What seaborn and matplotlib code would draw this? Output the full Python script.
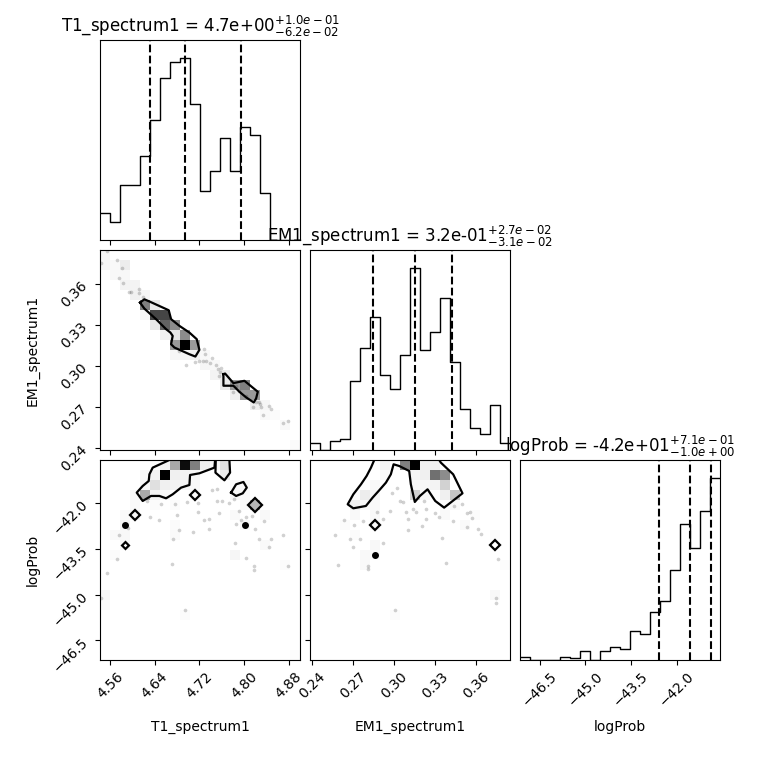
import numpy as np
import matplotlib
matplotlib.use("Agg")
import matplotlib.pyplot as plt
import seaborn as sns
from matplotlib.colors import LinearSegmentedColormap

# parameters, plotting ranges and ticks
labels = ["T1_spectrum1", "EM1_spectrum1", "logProb"]
ranges = [(4.542, 4.900), (0.2388, 0.3848), (-47.14, -40.58)]
ticks = [[4.56, 4.64, 4.72, 4.80, 4.88],
         [0.24, 0.27, 0.30, 0.33, 0.36],
         [-46.5, -45.0, -43.5, -42.0]]

# marginal histograms, 20 bins over each range
t1_counts = [15, 10, 30, 30, 46, 66, 89, 98, 100, 75, 27, 38, 56, 38, 62, 58, 26, 0, 0, 0]
em1_counts = [3.7, 0, 4.9, 6.2, 38, 56, 73, 41, 33.5, 52, 100, 55, 65, 83.5, 48.6, 22.7, 12.2, 8.6, 24.7, 3.7]
logprob_counts = [1.8, 0, 0, 0, 1.8, 0.9, 5, 0, 5, 7, 6, 15.8, 14.3, 26.2, 32.3, 49.4, 74.7, 61.7, 82.2, 100]

# 16 / 50 / 84 % quantiles
t1_quantiles = [4.632, 4.694, 4.794]
em1_quantiles = [0.2845, 0.3155, 0.3425]
logprob_quantiles = [-42.575, -41.575, -40.865]

# title numbers: median, +err, -err
t1_title = ["4.7e+00", "1.0e-01", "6.2e-02"]
em1_title = ["3.2e-01", "2.7e-02", "3.1e-02"]
logprob_title = ["-4.2e+01", "7.1e-01", "1.0e+00"]

# --- T1 vs EM1 ---
t1_em1_cell_x = [4.551, 4.551, 4.569, 4.587, 4.569, 4.587, 4.587, 4.605, 4.605, 4.623, 4.623, 4.641,
                 4.623, 4.641, 4.658, 4.641, 4.658, 4.676, 4.658, 4.676, 4.694, 4.676, 4.694, 4.712,
                 4.676, 4.694, 4.712, 4.730, 4.730, 4.748, 4.748, 4.766, 4.766, 4.784, 4.802, 4.784,
                 4.802, 4.820, 4.820, 4.837, 4.837, 4.855, 4.873, 4.891]
t1_em1_cell_y = [0.3812, 0.3739, 0.3739, 0.3739, 0.3666, 0.3666, 0.3593, 0.3593, 0.3520, 0.3520, 0.3447, 0.3447,
                 0.3374, 0.3374, 0.3374, 0.3301, 0.3301, 0.3301, 0.3228, 0.3228, 0.3228, 0.3155, 0.3155, 0.3155,
                 0.3082, 0.3082, 0.3082, 0.3082, 0.3009, 0.3009, 0.2936, 0.2936, 0.2863, 0.2863, 0.2863, 0.2790,
                 0.2790, 0.2790, 0.2717, 0.2717, 0.2644, 0.2644, 0.2571, 0.2425]
t1_em1_cell_w = [0.06, 0.06, 0.04, 0.12, 0.05, 0.05, 0.08, 0.08, 0.10, 0.06, 0.55, 0.15,
                 0.06, 0.75, 0.75, 0.15, 0.65, 0.50, 0.10, 0.15, 0.50, 0.45, 1.00, 0.45,
                 0.06, 0.08, 0.10, 0.05, 0.06, 0.05, 0.08, 0.12, 0.15, 0.45, 0.55, 0.10,
                 0.45, 0.45, 0.12, 0.06, 0.04, 0.03, 0.05, 0.03]
t1_em1_pts_x = [4.5438, 4.5539, 4.5719, 4.5808, 4.5754, 4.5826, 4.5933, 4.5975, 4.6113, 4.6124,
                4.6184, 4.6829, 4.6960, 4.7127, 4.7199, 4.7289, 4.7307, 4.7259, 4.7318, 4.7390,
                4.7426, 4.7498, 4.7527, 4.7575, 4.7545, 4.7587, 4.7796, 4.7856, 4.7903, 4.8035,
                4.8166, 4.8214, 4.8262, 4.8286, 4.8304, 4.8333, 4.8441, 4.8483, 4.8692, 4.8787]
t1_em1_pts_y = [0.3751, 0.3841, 0.3775, 0.3719, 0.3646, 0.3610, 0.3544, 0.3542, 0.3566, 0.3532,
                0.3508, 0.3107, 0.3010, 0.3032, 0.3036, 0.3124, 0.3087, 0.3039, 0.3039, 0.3022,
                0.3056, 0.3007, 0.2978, 0.2959, 0.2929, 0.2990, 0.2808, 0.2857, 0.2820, 0.2784,
                0.2699, 0.2735, 0.2740, 0.2723, 0.2699, 0.2643, 0.2706, 0.2686, 0.2584, 0.2597]
t1_em1_contour1_x = [4.6136, 4.6214, 4.6321, 4.6650, 4.6692, 4.6841, 4.7020, 4.7151, 4.7199, 4.7127,
                     4.7020, 4.6751, 4.6692, 4.6721, 4.6680, 4.6602, 4.6423, 4.6214, 4.6136]
t1_em1_contour1_y = [0.3464, 0.3488, 0.3469, 0.3408, 0.3343, 0.3294, 0.3245, 0.3197, 0.3119, 0.3070,
                     0.3087, 0.3136, 0.3160, 0.3221, 0.3245, 0.3270, 0.3343, 0.3420, 0.3464]
t1_em1_contour2_x = [4.7629, 4.7659, 4.7808, 4.8005, 4.8244, 4.8214, 4.8172, 4.8035, 4.7915, 4.7808, 4.7629, 4.7629]
t1_em1_contour2_y = [0.2942, 0.2946, 0.2876, 0.2893, 0.2813, 0.2764, 0.2735, 0.2772, 0.2813, 0.2857, 0.2857, 0.2942]

# --- T1 vs logProb ---
t1_lp_cell_x = [4.658, 4.676, 4.694, 4.712, 4.730, 4.748, 4.766,
                4.623, 4.641, 4.658, 4.676, 4.694, 4.712, 4.766,
                4.623, 4.641, 4.658, 4.676, 4.694, 4.712, 4.784, 4.802,
                4.605, 4.623, 4.641, 4.658, 4.712, 4.784, 4.802,
                4.605, 4.641, 4.676, 4.802, 4.820,
                4.587, 4.605, 4.784, 4.837,
                4.587, 4.676, 4.802,
                4.569, 4.587, 4.676,
                4.587, 4.837, 4.569, 4.784, 4.873, 4.551, 4.551, 4.694, 4.891]
t1_lp_cell_y = [-40.74] * 7 + [-41.07] * 7 + [-41.40] * 8 + [-41.73] * 7 + [-42.06] * 5 + [-42.38] * 4 \
    + [-42.71] * 3 + [-43.04] * 3 + [-43.37, -43.37, -43.70, -43.70, -44.02, -45.01, -45.34, -45.66, -46.98]
t1_lp_cell_w = [0.08, 0.40, 0.95, 0.55, 0.10, 0.05, 0.20,
                0.04, 0.08, 1.00, 0.10, 0.08, 0.06, 0.12,
                0.05, 0.20, 0.10, 0.08, 0.08, 0.04, 0.05, 0.05,
                0.05, 0.40, 0.08, 0.05, 0.04, 0.06, 0.04,
                0.04, 0.03, 0.03, 0.04, 0.35,
                0.04, 0.06, 0.04, 0.05,
                0.08, 0.03, 0.05,
                0.04, 0.05, 0.04,
                0.05, 0.04, 0.03, 0.06, 0.03, 0.06, 0.04, 0.03, 0.02]
t1_lp_pts_x = [4.6512, 4.6769, 4.6972, 4.7169, 4.6793, 4.6321, 4.6471, 4.6829, 4.6721, 4.7092,
               4.7289, 4.7378, 4.7426, 4.7510, 4.7545, 4.7605, 4.7736, 4.7826, 4.7915, 4.7856,
               4.8035, 4.8142, 4.8202, 4.8274, 4.8363, 4.8441, 4.8483, 4.8692, 4.8781, 4.8035,
               4.8172, 4.8172, 4.7844, 4.6704, 4.6948, 4.5539, 4.5438, 4.5719, 4.5754, 4.5927,
               4.6256, 4.7169, 4.7378, 4.7510, 4.7945]
t1_lp_pts_y = [-42.034, -42.034, -41.946, -42.274, -42.394, -42.438, -42.558, -42.875, -43.159, -42.941,
               -42.558, -42.832, -41.564, -41.924, -42.307, -41.924, -41.979, -41.870, -42.252, -42.689,
               -42.438, -42.416, -42.832, -43.181, -42.580, -43.422, -43.181, -43.039, -44.056, -43.804,
               -44.056, -44.187, -43.291, -43.979, -45.488, -44.274, -45.094, -43.837, -43.039, -42.799,
               -41.924, -41.979, -42.526, -41.542, -42.547]
t1_lp_contour1_x = [4.6662, 4.6363, 4.6304, 4.6292, 4.6184, 4.6077, 4.6184, 4.6333, 4.6483, 4.6602,
                    4.6721, 4.6871, 4.7020, 4.7032, 4.7199, 4.7468, 4.7480]
t1_lp_contour1_y = [-40.58, -40.831, -41.050, -41.269, -41.433, -41.651, -41.924, -41.760, -41.760, -41.837,
                    -41.706, -41.487, -41.400, -41.072, -41.017, -40.831, -40.58]
t1_lp_contour2_x = [4.7492, 4.7486, 4.7647, 4.7748, 4.7736]
t1_lp_contour2_y = [-40.58, -40.995, -41.247, -40.995, -40.58]
t1_lp_contour3_x = [4.7766, 4.7856, 4.7987, 4.8047, 4.7975, 4.7856, 4.7766]
t1_lp_contour3_y = [-41.651, -41.378, -41.301, -41.487, -41.673, -41.760, -41.651]
t1_lp_ring_x = [4.605, 4.587, 4.712, 4.820]
t1_lp_ring_y = [-42.38, -43.37, -41.73, -42.06]
t1_lp_dot_x = [4.587, 4.802]
t1_lp_dot_y = [-42.71, -42.71]

# --- EM1 vs logProb ---
em1_lp_cell_x = [0.2936, 0.3082, 0.3155, 0.3228, 0.3301,
                 0.2936, 0.3155, 0.3228, 0.3301, 0.3374,
                 0.2863, 0.3155, 0.3228, 0.3301, 0.3374,
                 0.2790, 0.2863, 0.3155, 0.3228, 0.3374, 0.3447,
                 0.2717, 0.2790, 0.2863, 0.3447,
                 0.2717, 0.2863, 0.3374, 0.3593,
                 0.2644, 0.2863, 0.3520,
                 0.2717, 0.3739, 0.2863, 0.2790, 0.2863, 0.2790, 0.3812, 0.3739, 0.3009]
em1_lp_cell_y = [-40.74] * 5 + [-41.07] * 5 + [-41.40] * 5 + [-41.73] * 6 + [-42.06] * 4 + [-42.38] * 4 \
    + [-42.71] * 3 + [-43.04, -43.04, -43.37, -43.70, -43.70, -44.02, -44.02, -45.01, -45.66]
em1_lp_cell_w = [0.08, 0.55, 1.00, 0.10, 0.10,
                 0.04, 0.06, 0.10, 0.60, 0.50,
                 0.04, 0.05, 0.05, 0.08, 0.25,
                 0.12, 0.06, 0.25, 0.04, 0.10, 0.30,
                 0.10, 0.06, 0.04, 0.04,
                 0.04, 0.05, 0.04, 0.03,
                 0.03, 0.05, 0.04,
                 0.03, 0.03, 0.05, 0.04, 0.03, 0.04, 0.02, 0.05, 0.03]
em1_lp_pts_x = [0.2633, 0.2711, 0.2680, 0.2704, 0.2755, 0.2772, 0.2573, 0.2590, 0.2813, 0.2813,
                0.2918, 0.2874, 0.2918, 0.2986, 0.3020, 0.3047, 0.3100, 0.3100, 0.3141, 0.3161,
                0.3204, 0.3234, 0.3234, 0.3221, 0.3299, 0.3331, 0.3355, 0.3379, 0.3433, 0.3440,
                0.3501, 0.3537, 0.3554, 0.3574, 0.3537, 0.3615, 0.3639, 0.3763, 0.3744, 0.3749,
                0.3008, 0.2974, 0.3068, 0.3088]
em1_lp_pts_y = [-42.547, -42.711, -43.181, -43.422, -43.181, -42.580, -43.039, -44.034, -44.056, -44.165,
                -43.313, -42.285, -42.526, -41.651, -41.487, -41.924, -42.526, -42.875, -42.198, -42.285,
                -42.744, -42.526, -42.198, -41.924, -42.329, -42.438, -43.149, -43.968, -42.580, -42.088,
                -42.034, -42.307, -42.285, -42.471, -42.766, -42.832, -43.017, -43.837, -45.094, -45.258,
                -45.488, -42.252, -41.946, -42.285]
em1_lp_contour1_x = [0.2857, 0.2833, 0.2801, 0.2760, 0.2704, 0.2663, 0.2704, 0.2796, 0.2845, 0.2893,
                     0.2942, 0.2978, 0.2998, 0.3039, 0.3112, 0.3124, 0.3153, 0.3190, 0.3246, 0.3302,
                     0.3367, 0.3501, 0.3433, 0.3343, 0.3331]
em1_lp_contour1_y = [-40.58, -40.831, -41.105, -41.378, -41.706, -42.034, -42.165, -42.088, -41.815, -41.575,
                     -41.323, -41.050, -40.722, -40.777, -40.941, -41.378, -41.957, -41.760, -41.542, -41.924,
                     -42.143, -41.673, -41.050, -40.667, -40.58]
em1_lp_ring_x = [0.2863, 0.3739]
em1_lp_ring_y = [-42.71, -43.37]
em1_lp_dot_x = [0.2863]
em1_lp_dot_y = [-43.70]

# low weights stay very pale, like corner's fading density map
density_cmap = LinearSegmentedColormap.from_list(
    "density", [(0.0, (1, 1, 1)), (0.2, (0.88, 0.88, 0.88)), (1.0, (0, 0, 0))])


def draw_2d(ax, xr, yr, cell_x, cell_y, cell_w, pts_x, pts_y, contours,
            ring_x=(), ring_y=(), ring_sizes=(), dot_x=(), dot_y=()):
    sns.histplot(x=cell_x, y=cell_y, weights=cell_w, bins=20, binrange=(xr, yr),
                 cmap=density_cmap, vmin=0, vmax=1, ax=ax, zorder=1)
    sns.scatterplot(x=pts_x, y=pts_y, color="k", alpha=0.18, s=7, linewidth=0, ax=ax, zorder=3)
    for cx, cy in contours:
        ax.plot(cx, cy, color="k", lw=1.6, zorder=4)
    for rx, ry, ms in zip(ring_x, ring_y, ring_sizes):
        ax.plot(rx, ry, "D", ms=ms, mfc="none", mec="k", mew=1.6, zorder=5)
    if len(dot_x):
        ax.plot(dot_x, dot_y, "o", ms=4, color="k", zorder=5)


fig, axes = plt.subplots(3, 3, figsize=(7.6, 7.6), dpi=100)
fig.subplots_adjust(left=0.1316, right=0.9474, bottom=0.1316, top=0.9474, wspace=0.05, hspace=0.05)

hist_counts = [t1_counts, em1_counts, logprob_counts]
quantiles = [t1_quantiles, em1_quantiles, logprob_quantiles]
titles = [t1_title, em1_title, logprob_title]

# diagonal: marginal histograms
for i in range(3):
    ax = axes[i, i]
    lo, hi = ranges[i]
    n_bins = len(hist_counts[i])
    edges = np.linspace(lo, hi, n_bins + 1)
    centers = 0.5 * (edges[:-1] + edges[1:])
    sns.histplot(x=centers, weights=hist_counts[i], bins=n_bins, binrange=(lo, hi),
                 element="step", fill=False, color="k", linewidth=1.0, ax=ax)
    for q in quantiles[i]:
        ax.axvline(q, ls="--", color="k", lw=1.5)
    ax.set_ylim(0, 1.1 * max(hist_counts[i]))
    ax.set_yticks([])
    val, plus, minus = titles[i]
    ax.set_title(f"{labels[i]} = {val}" + "${}^{+" + plus + "}_{-" + minus + "}$")

# lower triangle
draw_2d(axes[1, 0], ranges[0], ranges[1], t1_em1_cell_x, t1_em1_cell_y, t1_em1_cell_w,
        t1_em1_pts_x, t1_em1_pts_y,
        [(t1_em1_contour1_x, t1_em1_contour1_y), (t1_em1_contour2_x, t1_em1_contour2_y)])
draw_2d(axes[2, 0], ranges[0], ranges[2], t1_lp_cell_x, t1_lp_cell_y, t1_lp_cell_w,
        t1_lp_pts_x, t1_lp_pts_y,
        [(t1_lp_contour1_x, t1_lp_contour1_y), (t1_lp_contour2_x, t1_lp_contour2_y),
         (t1_lp_contour3_x, t1_lp_contour3_y)],
        t1_lp_ring_x, t1_lp_ring_y, [5, 3.5, 5, 7.5], t1_lp_dot_x, t1_lp_dot_y)
draw_2d(axes[2, 1], ranges[1], ranges[2], em1_lp_cell_x, em1_lp_cell_y, em1_lp_cell_w,
        em1_lp_pts_x, em1_lp_pts_y, [(em1_lp_contour1_x, em1_lp_contour1_y)],
        em1_lp_ring_x, em1_lp_ring_y, [5, 5], em1_lp_dot_x, em1_lp_dot_y)

# axes cosmetics
for i in range(3):
    for j in range(3):
        ax = axes[i, j]
        if j > i:
            ax.set_frame_on(False)
            ax.set_xticks([])
            ax.set_yticks([])
            continue
        ax.set_xlim(*ranges[j])
        ax.set_xticks(ticks[j])
        if i != j:
            ax.set_ylim(*ranges[i])
            ax.set_yticks(ticks[i])
        ax.set_xlabel("")
        ax.set_ylabel("")
        if i < 2:
            ax.tick_params(labelbottom=False)
        else:
            ax.tick_params(axis="x", labelrotation=45)
            ax.set_xlabel(labels[j])
            ax.xaxis.set_label_coords(0.5, -0.3)
        if j > 0:
            ax.tick_params(labelleft=False)
        elif i > 0:
            ax.tick_params(axis="y", labelrotation=45)
            ax.set_ylabel(labels[i])
            ax.yaxis.set_label_coords(-0.3, 0.5)

fig.savefig("out.png", dpi=100)
